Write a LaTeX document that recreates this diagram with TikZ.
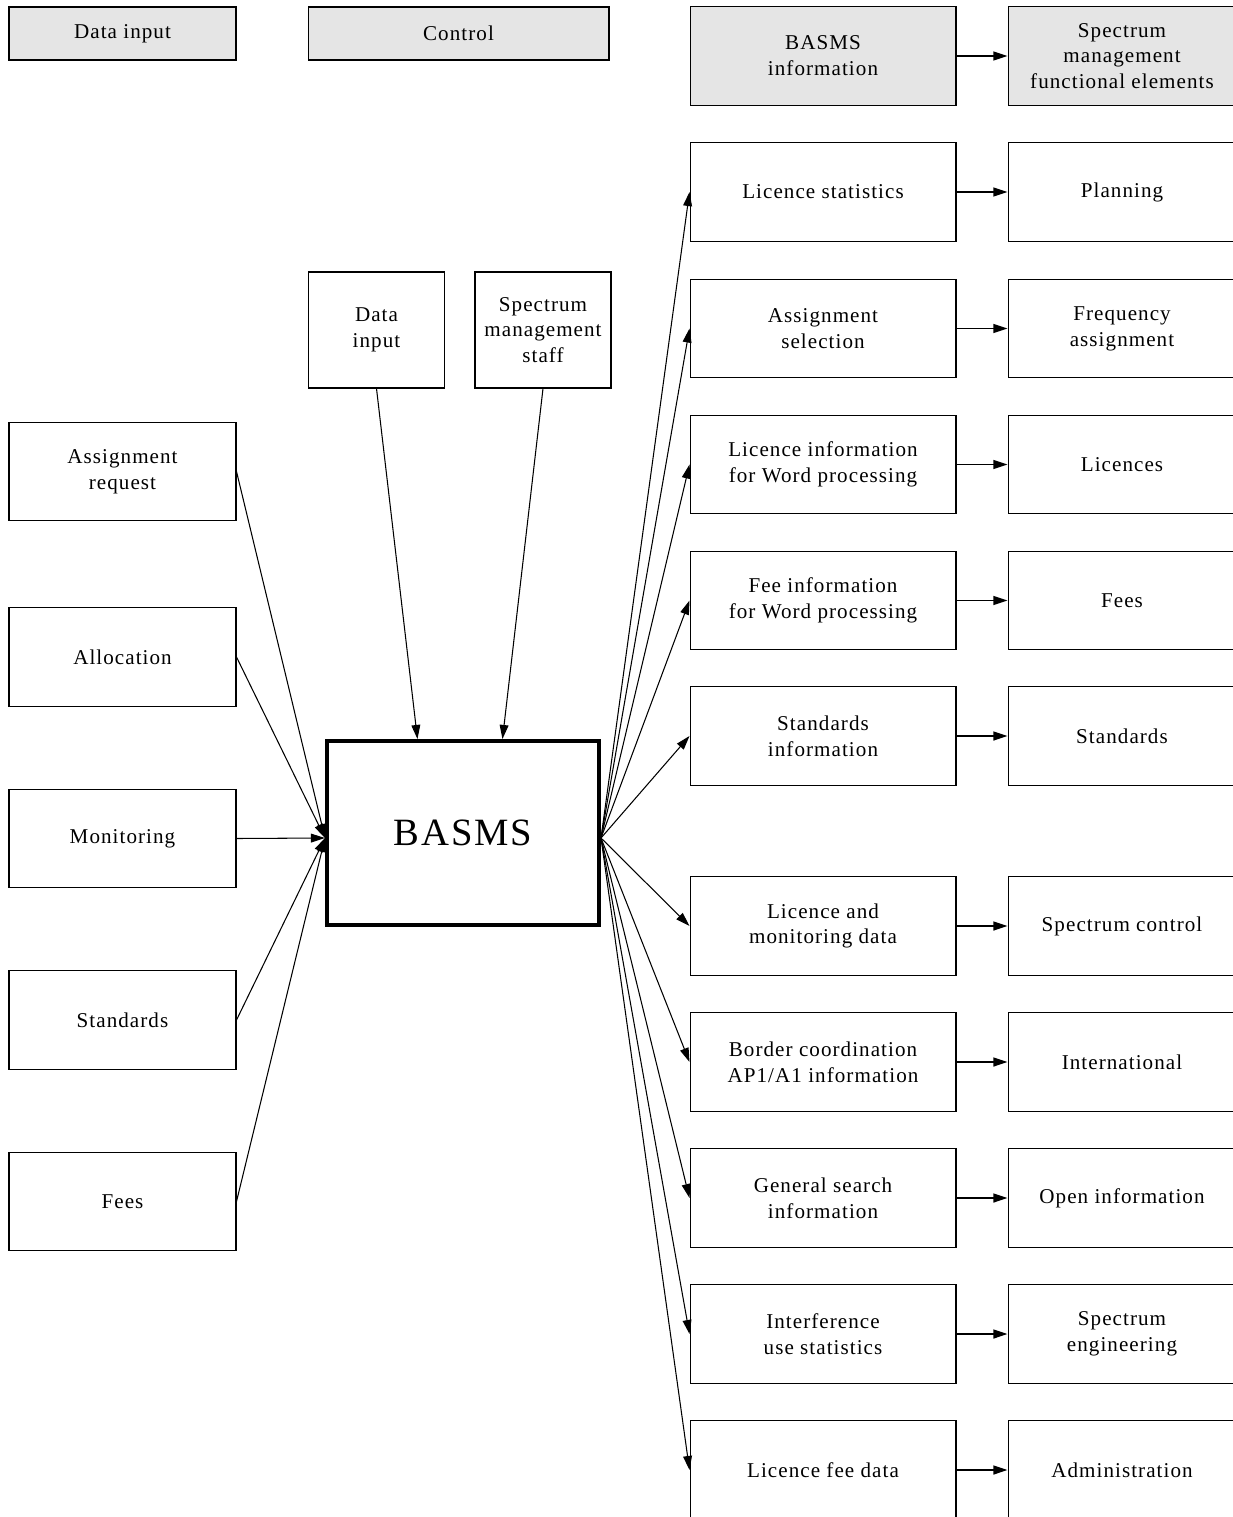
\documentclass[tikz,border=0pt]{standalone}
\usepackage{fontspec}
\setmainfont{Liberation Serif}[LetterSpace=5]
\usetikzlibrary{calc,arrows.meta}
\definecolor{boxgrey}{gray}{0.9}
\tikzset{plain box/.style={draw, line width=0.6pt, align=center, inner sep=0pt, font=\fontsize{12}{14.7}\selectfont},
         grey box/.style={plain box, fill=boxgrey},
         left box/.style={plain box, minimum width=4.54cm, minimum height=1.97cm},
         info box/.style={plain box, minimum width=5.32cm, minimum height=1.97cm},
         element box/.style={plain box, minimum width=4.56cm, minimum height=1.97cm},
         flow/.style={-{Triangle[length=8pt,width=5pt]}, line width=0.6pt},
         short flow/.style={-{Triangle[length=8pt,width=5pt]}, line width=1.1pt}}

\begin{document}
\begin{tikzpicture}[x=0.02cm, y=-0.02cm]
        \useasboundingbox (0,0) rectangle (1233,1517);
        \clip (0,0) rectangle (1233,1517);

        % headings
        \node [grey box, minimum width=4.54cm, minimum height=1.06cm] (h1) at (122.5,33.5) {Data input};
        \node [grey box, minimum width=6.02cm, minimum height=1.06cm] (h2) at (458.5,33.5) {Control};
        \node [grey box, info box] (h3) at (823,56) {BASMS\\information};
        \node [grey box, element box] (h4) at (1122,56) {Spectrum\\management\\functional elements};
        \draw [short flow] (h3) to (h4);

        % centre
        \node [plain box, line width=2.3pt, minimum width=5.44cm, minimum height=3.68cm, font=\fontsize{22}{26}\selectfont] (basms) at (463,833) {BASMS};

        % control
        \node [plain box, minimum width=2.72cm, minimum height=2.32cm] (c1) at (376.5,330) {Data\\input};
        \node [plain box, minimum width=2.72cm, minimum height=2.32cm] (c2) at (543,330) {Spectrum\\management\\staff};
        \draw [flow] (c1.south) to ($(basms.north west)!0.335!(basms.north east)$);
        \draw [flow] (c2.south) to ($(basms.north west)!0.643!(basms.north east)$);

        % data input
        \foreach \u/\y/\txt in {1/471.5/{Assignment\\request}, 2/657/Allocation, 3/838.5/Monitoring,
                               4/1020/Standards, 5/1201.5/Fees}{
                 \node [left box] (l\u) at (122.5,\y) {\txt};
                 \draw [flow] (l\u.east) to ([yshift=-0.1cm]basms.west);
        }

        % information and functional elements
        \foreach \u/\y/\txt/\elem in {1/192/{Licence statistics}/Planning,
                                      2/328.5/{Assignment\\selection}/{Frequency\\assignment},
                                      3/464.5/{Licence information\\for Word processing}/Licences,
                                      4/600.5/{Fee information\\for Word processing}/Fees,
                                      5/736/{Standards\\information}/Standards,
                                      6/926/{Licence and\\monitoring data}/{Spectrum control},
                                      7/1062/{Border coordination\\AP1/A1 information}/International,
                                      8/1198/{General search\\information}/{Open information},
                                      9/1334/{Interference\\use statistics}/{Spectrum\\engineering},
                                      10/1470/{Licence fee data}/Administration}{
                 \node [info box] (r\u) at (823,\y) {\txt};
                 \node [element box] (f\u) at (1122,\y) {\elem};
                 \draw [flow] ([yshift=-0.1cm]basms.east) to (r\u.west);
                 \draw [short flow] (r\u) to (f\u);
        }
\end{tikzpicture}
\end{document}
